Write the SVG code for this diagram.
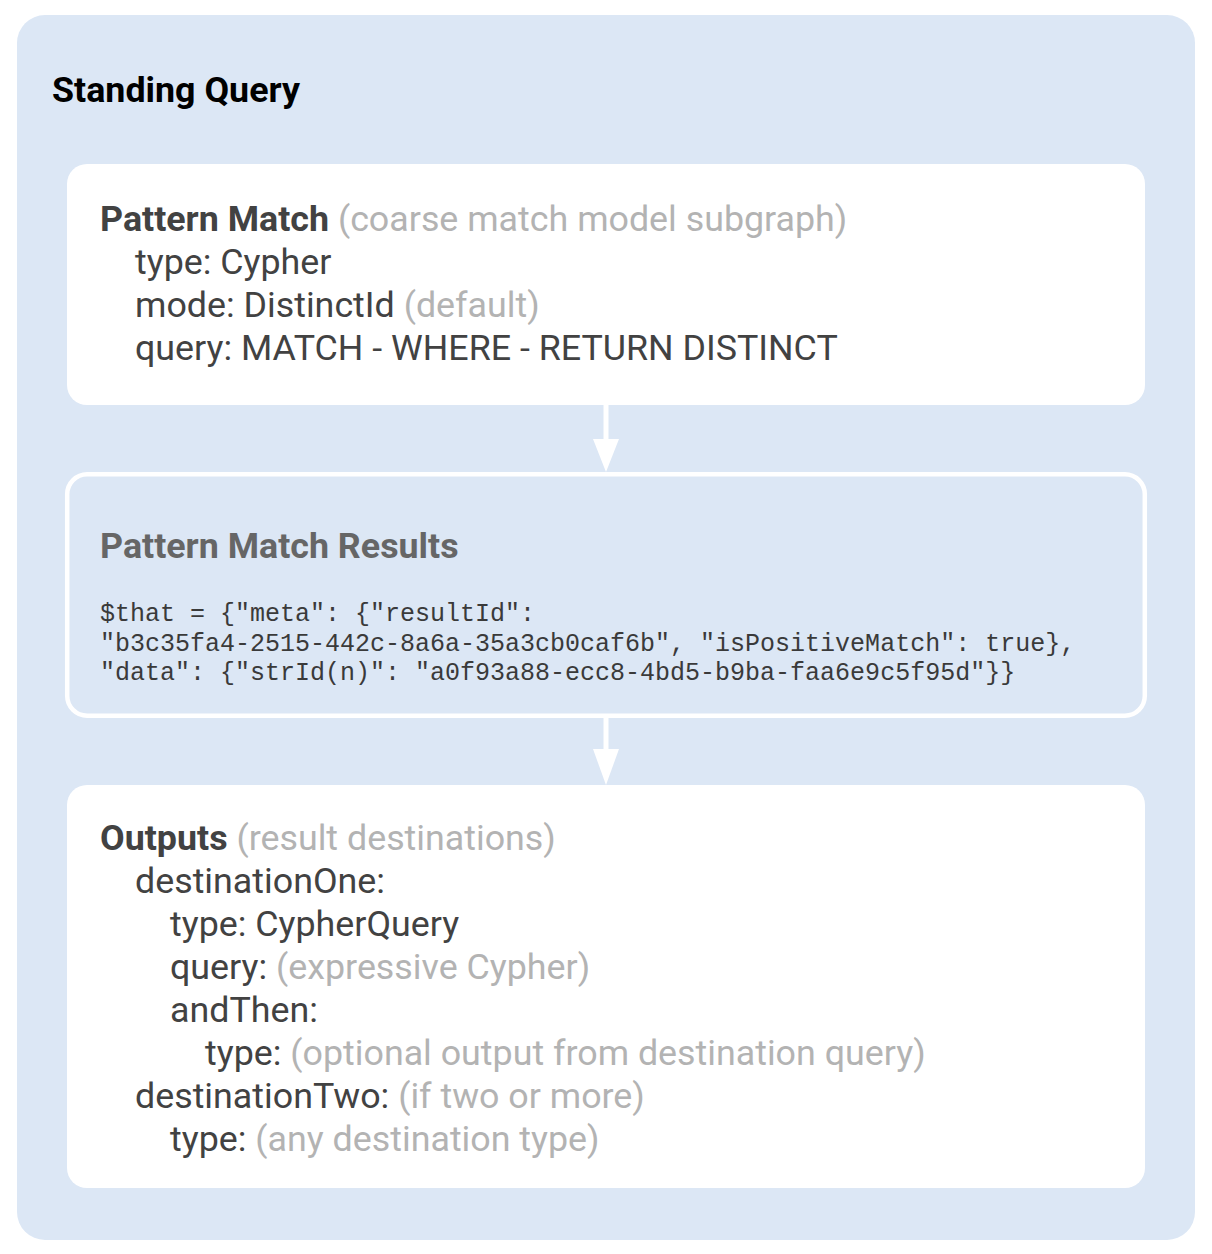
<svg xmlns="http://www.w3.org/2000/svg" width="1212" height="1254" viewBox="0 0 1212 1254">
<style>
.t{font-family:Roboto,"Liberation Sans",sans-serif;font-size:35.8px;fill:#424242}
.b{font-weight:bold}
.g{fill:#b3b3b3}
.m{font-family:"Liberation Mono","Courier New",monospace;font-size:25px;fill:#3a3a3a}
.box{fill:#ffffff}
.arr{stroke:#ffffff;stroke-width:5;fill:none}
.head{fill:#ffffff}
</style>
<rect width="1212" height="1254" fill="#ffffff"/>
<g id="standing-query">
<rect x="17" y="15" width="1178" height="1225" rx="28" fill="#dce7f5"/>
<text class="t b" x="52" y="102" style="fill:#000000">Standing Query</text>
</g>
<g id="pattern-match">
<rect class="box" x="67" y="164" width="1078" height="241" rx="20"/>
<text class="t" x="100" y="231"><tspan class="b">Pattern Match</tspan> <tspan class="g">(coarse match model subgraph)</tspan></text>
<text class="t" x="135" y="274">type: Cypher</text>
<text class="t" x="135" y="317">mode: DistinctId <tspan class="g">(default)</tspan></text>
<text class="t" x="135" y="360">query: MATCH - WHERE - RETURN DISTINCT</text>
</g>
<g id="pattern-match-results">
<rect x="67.2" y="474.2" width="1077.6" height="241.6" rx="20" fill="none" stroke="#ffffff" stroke-width="4.5"/>
<text class="t b" x="100" y="558" style="fill:#666666">Pattern Match Results</text>
<text class="m" x="100" y="621" xml:space="preserve">$that = {"meta": {"resultId":</text>
<text class="m" x="100" y="651" xml:space="preserve">"b3c35fa4-2515-442c-8a6a-35a3cb0caf6b", "isPositiveMatch": true},</text>
<text class="m" x="100" y="680" xml:space="preserve">"data": {"strId(n)": "a0f93a88-ecc8-4bd5-b9ba-faa6e9c5f95d"}}</text>
</g>
<g id="outputs">
<rect class="box" x="67" y="785" width="1078" height="403" rx="20"/>
<text class="t" x="100" y="850"><tspan class="b">Outputs</tspan> <tspan class="g">(result destinations)</tspan></text>
<text class="t" x="135" y="893">destinationOne:</text>
<text class="t" x="170" y="936">type: CypherQuery</text>
<text class="t" x="170" y="979">query: <tspan class="g">(expressive Cypher)</tspan></text>
<text class="t" x="170" y="1022">andThen:</text>
<text class="t" x="205" y="1065">type: <tspan class="g">(optional output from destination query)</tspan></text>
<text class="t" x="135" y="1108">destinationTwo: <tspan class="g">(if two or more)</tspan></text>
<text class="t" x="170" y="1151">type: <tspan class="g">(any destination type)</tspan></text>
</g>
<g id="connectors">
<line class="arr" x1="606" y1="405" x2="606" y2="442"/>
<polygon class="head" points="593,439 619,439 606,472"/>
<line class="arr" x1="606" y1="716" x2="606" y2="752"/>
<polygon class="head" points="593,749 619,749 606,785"/>
</g>
</svg>
